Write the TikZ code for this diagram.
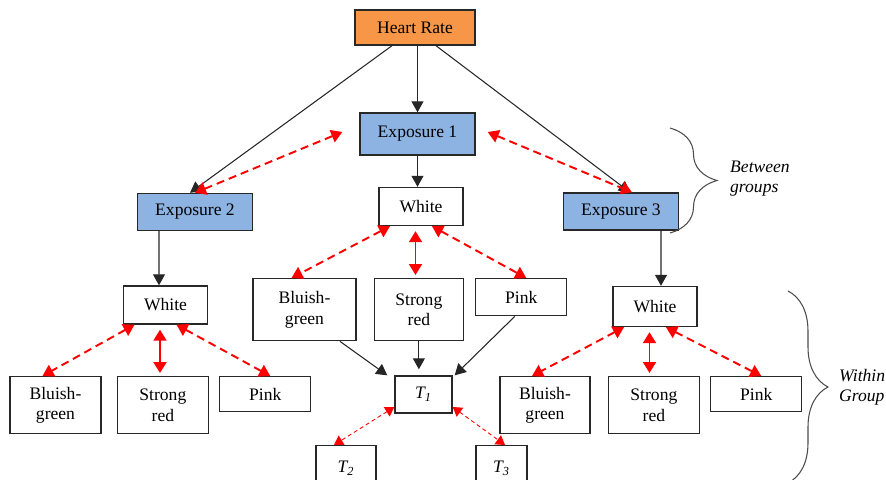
\documentclass[tikz,border=0pt]{standalone}
\usepackage{fontspec}
\setmainfont{Liberation Serif}
\usepackage{tikz}
\usetikzlibrary{positioning, arrows.meta, calc, decorations.pathreplacing}
\definecolor{hrfill}{RGB}{247,150,70}
\definecolor{expfill}{RGB}{141,179,226}
\definecolor{boxline}{RGB}{40,40,40}

\begin{document}
\begin{tikzpicture}[
        x=0.02cm, y=-0.02cm,
        font=\rmfamily\fontsize{10}{11.5}\selectfont,
        box/.style={draw=boxline, line width=0.8pt, rectangle, align=center, inner sep=1pt, fill=white},
        hrbox/.style={box, fill=hrfill, minimum width=2.4cm, minimum height=0.7cm},
        expbox/.style={box, fill=expfill, minimum width=2.3cm, minimum height=0.74cm},
        colbox/.style={box, minimum width=1.68cm, minimum height=0.76cm},
        leafbox/.style={box, anchor=north, minimum width=1.82cm, minimum height=1.14cm},
        pinkbox/.style={leafbox, minimum height=0.7cm},
        tbox/.style={box, anchor=north, minimum height=0.9cm, font=\rmfamily\fontsize{10}{11.5}\selectfont\itshape},
        arr/.style={-{Triangle[length=0.22cm, width=0.24cm]}, line width=0.6pt, draw=black!85},
        rarr/.style={{Triangle[length=0.22cm, width=0.26cm]}-{Triangle[length=0.22cm, width=0.26cm]}, red, line width=1.1pt, dash pattern=on 0.16cm off 0.1cm},
        vrarr/.style={rarr, solid},
        tarr/.style={{Triangle[length=0.18cm, width=0.22cm]}-{Triangle[length=0.18cm, width=0.22cm]}, red, line width=0.5pt, dash pattern=on 0.08cm off 0.06cm},
        grpbrace/.style={decorate, decoration={brace, amplitude=#1, aspect=0.5}, draw=black!70, line width=0.6pt},
        lbl/.style={anchor=west, align=left, font=\rmfamily\fontsize{10}{11.5}\selectfont\itshape}
    ]
    \clip (0,0) rectangle (886,480);

    \node[hrbox] (hr) at (415,27.5) {Heart Rate};
    \node[expbox, minimum height=0.84cm] (e1) at (417.5,134) {Exposure 1};
    \node[expbox] (e2) at (195,212) {Exposure 2};
    \node[expbox] (e3) at (621,211.5) {Exposure 3};

    \node[colbox] (w1) at (421,206.5) {White};
    \node[colbox] (w2) at (165.5,305) {White};
    \node[colbox, minimum height=0.8cm] (w3) at (655,306.5) {White};

    % exposure 2 colours
    \node[leafbox] (bg2) at (55.5,376) {Bluish-\\green};
    \node[leafbox] (sr2) [right=0.3cm of bg2.north east, anchor=north west] {Strong\\red};
    \node[pinkbox] (pk2) [right=0.2cm of sr2.north east, anchor=north west] {Pink};

    % exposure 1 colours
    \node[leafbox, minimum width=2.06cm, minimum height=1.24cm] (bg1) at (304.5,278) {Bluish-\\green};
    \node[leafbox, minimum width=1.78cm, minimum height=1.24cm] (sr1) [right=0.34cm of bg1.north east, anchor=north west] {Strong\\red};
    \node[pinkbox, minimum height=0.74cm] (pk1) [right=0.22cm of sr1.north east, anchor=north west] {Pink};

    % exposure 3 colours
    \node[leafbox, minimum width=1.8cm] (bg3) at (545,376) {Bluish-\\green};
    \node[leafbox] (sr3) [right=0.34cm of bg3.north east, anchor=north west] {Strong\\red};
    \node[pinkbox] (pk3) [right=0.2cm of sr3.north east, anchor=north west] {Pink};

    % time points
    \node[box, font=\rmfamily\fontsize{10}{11.5}\selectfont\itshape, minimum width=1.14cm, minimum height=0.74cm] (t1) at (423.5,394.5) {T\textsubscript{1}};
    \node[tbox, minimum width=1.2cm] (t2) at (346,445) {T\textsubscript{2}};
    \node[tbox, minimum width=1.02cm] (t3) at (501.5,445) {T\textsubscript{3}};

    % Heart rate to exposures
    \draw[arr] (hr.south -| e1.north) -- (e1.north);
    \draw[arr] ([xshift=-0.46cm]hr.south) -- ([xshift=-0.1cm]e2.north);
    \draw[arr] ([xshift=0.42cm]hr.south) -- ([xshift=0.18cm]e3.north);
    \draw[arr] (e1.south) -- (e1.south |- w1.north);
    \draw[arr] ([xshift=-0.72cm]e2.south) -- ([xshift=-0.13cm]w2.north);
    \draw[arr] ([xshift=0.8cm]e3.south) -- ([xshift=0.12cm]w3.north);

    % between exposures
    \draw[rarr] (e2.north) -- ([xshift=-0.34cm, yshift=0.04cm]e1.west);
    \draw[rarr] ([xshift=0.24cm, yshift=0.04cm]e1.east) -- ([xshift=0.22cm]e3.north);

    % within each exposure
    \foreach \g in {1,2,3} {
        \path ([xshift=-0.11cm]w\g.south) coordinate (mid\g);
        \draw[rarr] ([xshift=-0.62cm]w\g.south) -- ([xshift=-0.26cm]bg\g.north);
        \draw[vrarr, shorten <=0.1cm, shorten >=0.06cm] (mid\g) -- (mid\g |- sr\g.north);
        \draw[rarr] ([xshift=0.22cm]w\g.south) -- ([xshift=0.1cm]pk\g.north);
    }

    % colours to T1
    \draw[arr] ([xshift=0.71cm]bg1.south) -- ([xshift=-0.14cm]t1.north west);
    \draw[arr, shorten >=0.12cm] (sr1.south) -- (sr1.south |- t1.north);
    \draw[arr] ([xshift=-0.13cm]pk1.south) -- ([xshift=0.04cm]t1.north east);
    \draw[tarr] ([yshift=-0.25cm]t1.west) -- ([xshift=-0.24cm]t2.north);
    \draw[tarr] ([yshift=-0.25cm]t1.east) -- ([xshift=0.07cm]t3.north);

    % braces
    \coordinate (btop) at (670,128);
    \coordinate (bbot) at (670,233);
    \coordinate (wtop) at (788,291);
    \coordinate (wbot) at (788,483);
    \draw[grpbrace=0.94cm] (btop) -- (bbot);
    \draw[grpbrace=0.8cm] (wtop) -- (wbot);
    \node[lbl] (btw) at (724,178.5) {Between\\groups};
    \node[lbl] (wtn) at (833,387) {Within\\Group};

\end{tikzpicture}
\end{document}
